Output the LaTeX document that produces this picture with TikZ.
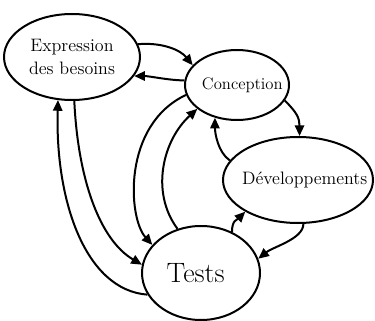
\documentclass[tikz,border=0pt]{standalone}
\usetikzlibrary{shapes.geometric,arrows.meta}
\tikzset{
  blob/.style={draw, ellipse, line width=1.5pt, inner sep=0pt},
  flow/.style={line width=1.5pt, -{Triangle[length=8pt,width=7pt]}},
  lbl/.style={font=\fontsize{13.5}{16}\selectfont}
}
\begin{document}
\begin{tikzpicture}[x=0.75pt,y=-0.75pt]
\useasboundingbox (0,0) rectangle (375,321);
\node[blob, minimum width=102pt, minimum height=64.5pt, lbl] (exp) at (72,57)
  {\makebox[0pt]{\shortstack{Expression\\[2pt]des besoins}}};
\node[blob, minimum width=78pt, minimum height=52.5pt, font=\fontsize{12.5}{15}\selectfont] (con) at (237,85)
  {\makebox[0pt]{\hspace{8pt}Conception}};
\node[blob, minimum width=112.5pt, minimum height=64.5pt, lbl] (dev) at (298,180)
  {\makebox[0pt]{\hspace{10pt}Développements}};
\node[blob, minimum width=88.5pt, minimum height=70.5pt, font=\fontsize{21}{24}\selectfont] (tst) at (201,273)
  {\makebox[0pt]{\hspace{-8pt}Tests}};
% Expression <-> Conception
\draw[flow] (exp.11) .. controls +(25,-2) and +(-12,-15) .. (con.156);
\draw[flow] (con.175) .. controls +(-15,0) and +(15,0) .. (exp.-17);
% Conception <-> Developpements
\draw[flow] (con.-18) .. controls +(12,12) and +(0,-18) .. (dev.88);
\draw[flow] (dev.164) .. controls +(-12,-8) and +(0,15) .. (con.-124);
% Developpements <-> Tests
\draw[flow] (dev.-83) .. controls +(0,15) and +(15,-12) .. (tst.14);
\draw[flow] (tst.53) .. controls +(0,-12) and +(-8,8) .. (dev.-149);
% Conception <-> Tests
\draw[flow] (con.-169) .. controls (122,125) and (128,218) .. (tst.150);
\draw[flow] (tst.118) .. controls (150,192) and (163,140) .. (con.-149);
% Expression <-> Tests
\draw[flow] (exp.-87) .. controls (78,180) and (100,240) .. (tst.172);
\draw[flow] (tst.-158) .. controls (85,290) and (55,200) .. (exp.-108);
\end{tikzpicture}
\end{document}
